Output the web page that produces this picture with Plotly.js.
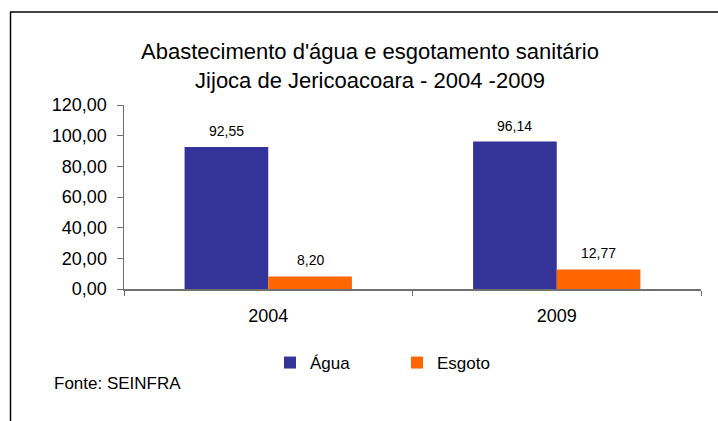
<!DOCTYPE html>
<html>
<head>
<meta charset="utf-8">
<script src="https://cdn.plot.ly/plotly-3.0.1.min.js"></script>
<style>html,body{margin:0;padding:0;background:#fff;}#chart{width:718px;height:421px;}</style>
</head>
<body>
<div id="chart"></div>
<script>
// ---- data ----
const categories = ["2004", "2009"];
const agua = [92.55, 96.14];
const esgoto = [8.20, 12.77];
const seriesNames = ["Água", "Esgoto"];
const yTickVals = [0, 20, 40, 60, 80, 100, 120];
const yTickText = ["0,00", "20,00", "40,00", "60,00", "80,00", "100,00", "120,00"];
const titleText = "Abastecimento d'água e esgotamento sanitário<br>Jijoca de Jericoacoara - 2004 -2009";
const sourceText = "Fonte: SEINFRA";

// ---- layout geometry ----
const W = 718, H = 421;
const M = {l: 124, r: 17, t: 105, b: 132};
const plotW = W - M.l - M.r, plotH = H - M.t - M.b;
const px2x = p => (p - M.l) / plotW;
const py2y = p => (H - M.b - p) / plotH;
const FONT = "Arial, 'Liberation Sans', sans-serif";
const fmt = v => v.toFixed(2).replace(".", ",");

const bargap = 0.42;
const barOffset = (1 - bargap) / 4;

const traces = [
  {type: "bar", name: seriesNames[0], x: categories, y: agua, marker: {color: "#333399"}, hoverinfo: "none"},
  {type: "bar", name: seriesNames[1], x: categories, y: esgoto, marker: {color: "#FF6600"}, hoverinfo: "none"}
];

const annotations = [];
[agua, esgoto].forEach((vals, si) => {
  vals.forEach((v, ci) => {
    annotations.push({
      x: ci + (si === 0 ? -barOffset : barOffset), y: v, xref: "x", yref: "y",
      text: fmt(v), showarrow: false, yanchor: "middle", yshift: 16,
      font: {family: FONT, size: 14, color: "#000"}
    });
  });
});
annotations.push({
  x: px2x(52), y: py2y(383), xref: "paper", yref: "paper", xanchor: "left", yanchor: "middle",
  text: sourceText, showarrow: false, font: {family: FONT, size: 17, color: "#000"}
});

const shapes = [
  {type: "line", xref: "paper", yref: "paper", x0: px2x(10.5), x1: px2x(10.5), y0: py2y(12), y1: py2y(H + 2), line: {color: "#000", width: 1.5}},
  {type: "line", xref: "paper", yref: "paper", x0: px2x(10), x1: px2x(W + 2), y0: py2y(12), y1: py2y(12), line: {color: "#000", width: 1.5}}
];

const layout = {
  width: W, height: H,
  margin: M,
  paper_bgcolor: "#fff", plot_bgcolor: "#fff",
  font: {family: FONT, color: "#000"},
  title: {
    text: titleText, x: 370 / W, xref: "container", xanchor: "center",
    y: 1 - 59 / H, yref: "container", yanchor: "middle",
    font: {family: FONT, size: 22, color: "#000"}
  },
  barmode: "group", bargap: bargap, bargroupgap: 0,
  xaxis: {
    type: "category", showgrid: false, zeroline: false,
    showline: true, linecolor: "#707070", linewidth: 1.5,
    ticks: "outside", tickson: "boundaries", ticklen: 5, tickcolor: "#707070",
    ticklabelstandoff: 10,
    tickfont: {family: FONT, size: 18, color: "#000"}
  },
  yaxis: {
    range: [0, 120], showgrid: false, zeroline: false,
    showline: true, linecolor: "#707070", linewidth: 1.5,
    ticks: "outside", ticklen: 6, tickcolor: "#707070",
    tickvals: yTickVals, ticktext: yTickText, ticklabelstandoff: 6,
    tickfont: {family: FONT, size: 18, color: "#000"}
  },
  showlegend: true,
  legend: {
    orientation: "h", x: px2x(270), xanchor: "left", y: py2y(363), yanchor: "middle",
    font: {family: FONT, size: 17, color: "#000"},
    entrywidth: 82, entrywidthmode: "pixels", itemwidth: 30
  },
  annotations: annotations,
  shapes: shapes
};

Plotly.newPlot("chart", traces, layout, {displayModeBar: false, staticPlot: true});
</script>
</body>
</html>
